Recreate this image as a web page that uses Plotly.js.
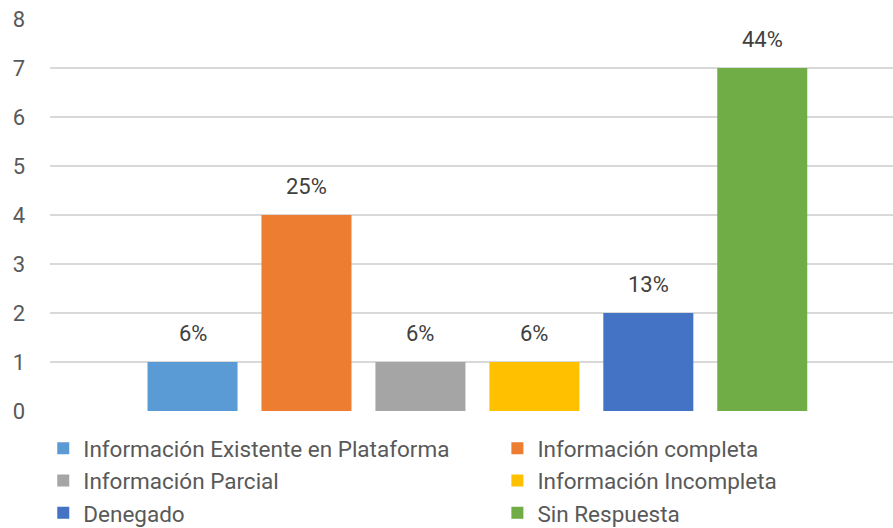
<!DOCTYPE html>
<html>
<head>
<meta charset="utf-8">
<script src="https://cdn.plot.ly/plotly-3.0.1.min.js"></script>
<style>html,body{margin:0;padding:0;background:#fff;}#chart{width:893px;height:528px;}</style>
</head>
<body>
<div id="chart"></div>
<script>
// ---- data ----
const category = ['Solicitudes'];
const seriesNames = [
  'Información Existente en Plataforma',
  'Información completa',
  'Información Parcial',
  'Información Incompleta',
  'Denegado',
  'Sin Respuesta'
];
const seriesValues = [1, 4, 1, 1, 2, 7];
const seriesLabels = ['6%', '25%', '6%', '6%', '13%', '44%'];
const yTickValues = [0, 1, 2, 3, 4, 5, 6, 7, 8];

// ---- styles ----
const colors = ['#5B9BD5', '#ED7D31', '#A5A5A5', '#FFC000', '#4472C4', '#70AD47'];
const FONT = 'Roboto, "Open Sans", sans-serif';
const bargap = 0.189;
const n = seriesNames.length;

const traces = seriesNames.map((name, i) => ({
  type: 'bar',
  name: name,
  x: category,
  y: [seriesValues[i]],
  marker: {color: colors[i], line: {width: 0}},
  legend: (i % 2 === 0) ? 'legend' : 'legend2',
  hoverinfo: 'name+y'
}));

const annotations = seriesNames.map((name, i) => ({
  xref: 'x', yref: 'y',
  x: (i - (n - 1) / 2) * (1 - bargap) / n,
  y: seriesValues[i],
  text: seriesLabels[i],
  showarrow: false,
  yanchor: 'bottom',
  yshift: 14,
  font: {family: FONT, size: 22, color: '#404040'}
}));

const legendStyle = (xPos) => ({
  orientation: 'v',
  xref: 'paper', x: xPos, xanchor: 'left',
  yref: 'container', y: 0.191, yanchor: 'top',
  font: {family: FONT, size: 22.5, color: '#595959'},
  traceorder: 'normal',
  bgcolor: 'rgba(0,0,0,0)'
});

const layout = {
  width: 893, height: 528,
  margin: {l: 50, r: 0, t: 19, b: 117},
  paper_bgcolor: '#ffffff', plot_bgcolor: '#ffffff',
  barmode: 'group',
  bargap: bargap,
  bargroupgap: 0.21,
  showlegend: true,
  legend: legendStyle(-0.008),
  legend2: legendStyle(0.5307),
  xaxis: {
    type: 'category',
    range: [-0.507, 0.493],
    showticklabels: false,
    showgrid: false,
    zeroline: false,
    showline: false,
    ticks: ''
  },
  yaxis: {
    range: [0, 8],
    tickvals: yTickValues,
    ticktext: yTickValues.map(String),
    showgrid: true,
    gridcolor: '#D9D9D9',
    gridwidth: 1.5,
    zeroline: false,
    showline: false,
    ticks: '',
    ticklabelstandoff: 24,
    tickfont: {family: FONT, size: 22, color: '#595959'}
  },
  annotations: annotations
};

Plotly.newPlot('chart', traces, layout, {displayModeBar: false, staticPlot: true});
</script>
</body>
</html>
